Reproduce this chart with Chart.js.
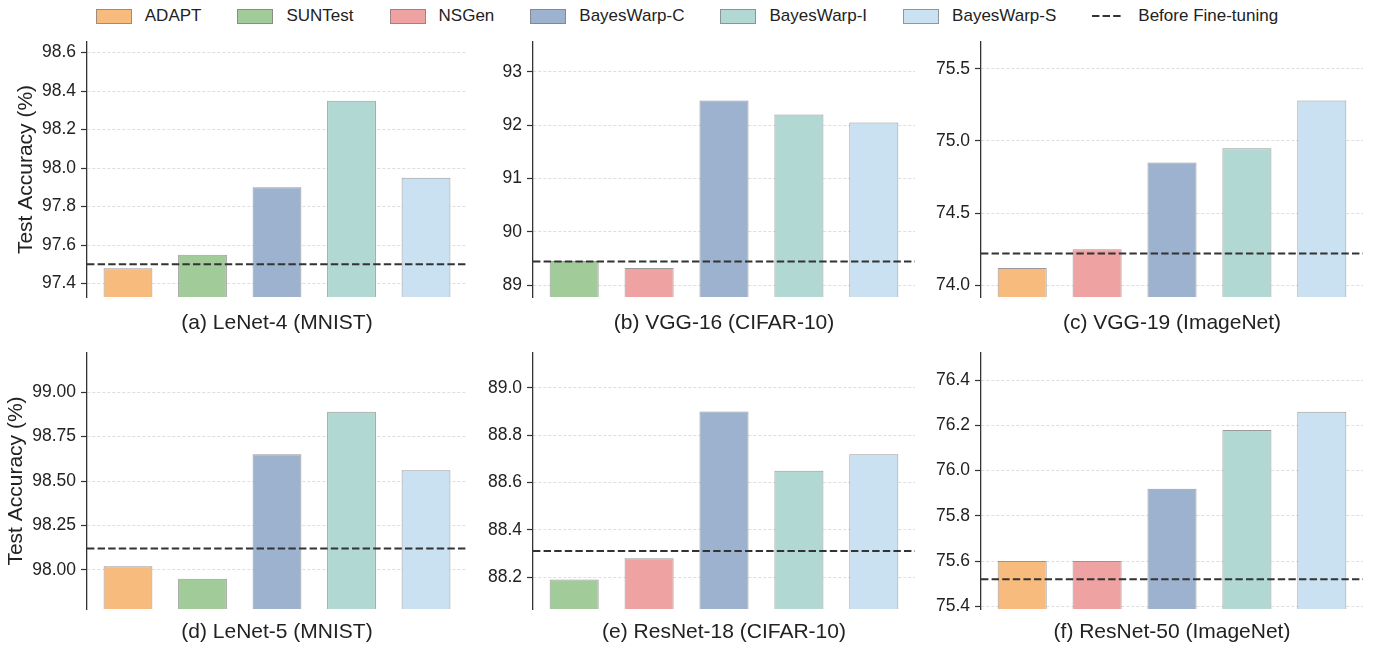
<!DOCTYPE html>
<html>
<head>
<meta charset="utf-8">
<script src="https://cdn.jsdelivr.net/npm/chart.js@4.4.1/dist/chart.umd.min.js"></script>
<style>
  html, body { margin: 0; padding: 0; background: #fff; overflow: hidden; }
  body { width: 1374px; height: 646px; position: relative; font-family: "Liberation Sans", Arial, sans-serif; }
  #legend { position: absolute; top: 6px; left: 0; width: 1374px; display: flex; justify-content: center; align-items: center; font-size: 17px; color: #222; line-height: 20px; }
  .item { display: flex; align-items: center; margin: 0 18px; }
  .sw { width: 36px; height: 15px; box-sizing: border-box; border: 1px solid rgba(120,120,120,0.7); margin-right: 13px; }
  .panel { position: absolute; }
</style>
</head>
<body>
<div id="legend"></div>

<script>
/* DATA */
const methods = ["ADAPT", "SUNTest", "NSGen", "BayesWarp-C", "BayesWarp-I", "BayesWarp-S"];
const methodColors = ["#f7bb7e", "#a1cb98", "#efa2a2", "#9db2ce", "#b2d8d3", "#c9e1f1"];
const baselineLabel = "Before Fine-tuning";

const panelTitles = ["(a) LeNet-4 (MNIST)", "(b) VGG-16 (CIFAR-10)", "(c) VGG-19 (ImageNet)",
                     "(d) LeNet-5 (MNIST)", "(e) ResNet-18 (CIFAR-10)", "(f) ResNet-50 (ImageNet)"];

// which methods appear in each panel, left to right
const methodsA = ["ADAPT", "SUNTest", "BayesWarp-C", "BayesWarp-I", "BayesWarp-S"];
const methodsB = ["SUNTest", "NSGen", "BayesWarp-C", "BayesWarp-I", "BayesWarp-S"];
const methodsC = ["ADAPT", "NSGen", "BayesWarp-C", "BayesWarp-I", "BayesWarp-S"];
const methodsD = ["ADAPT", "SUNTest", "BayesWarp-C", "BayesWarp-I", "BayesWarp-S"];
const methodsE = ["SUNTest", "NSGen", "BayesWarp-C", "BayesWarp-I", "BayesWarp-S"];
const methodsF = ["ADAPT", "NSGen", "BayesWarp-C", "BayesWarp-I", "BayesWarp-S"];

const accA = [97.48, 97.55, 97.90, 98.35, 97.95];
const accB = [89.45, 89.32, 92.46, 92.20, 92.05];
const accC = [74.12, 74.25, 74.85, 74.95, 75.28];
const accD = [98.02, 97.95, 98.65, 98.89, 98.56];
const accE = [88.19, 88.28, 88.90, 88.65, 88.72];
const accF = [75.60, 75.60, 75.92, 76.18, 76.26];

const baselines = [97.50, 89.44, 74.22, 98.12, 88.31, 75.52];

const ticksA = [97.4, 97.6, 97.8, 98.0, 98.2, 98.4, 98.6];
const ticksB = [89, 90, 91, 92, 93];
const ticksC = [74.0, 74.5, 75.0, 75.5];
const ticksD = [98.00, 98.25, 98.50, 98.75, 99.00];
const ticksE = [88.2, 88.4, 88.6, 88.8, 89.0];
const ticksF = [75.4, 75.6, 75.8, 76.0, 76.2, 76.4];
const tickDecimals = [1, 0, 1, 2, 1, 1];

const yMins = [97.33, 88.775, 73.919, 97.78, 88.065, 75.388];
const yMaxs = [98.655, 93.56, 75.685, 99.22, 89.148, 76.52];

/* LAYOUT */
const colLeft = [87, 533, 981];
const colW = [380, 382, 382];
const rowTop = [42, 353];
const rowH = [255, 256];
const xAxisH = [39, 36];
const yTitlePad = [14, 4];
const TOP = 10;
const FONT = '"Liberation Sans", Arial, sans-serif';

/* LEGEND */
const legend = document.getElementById("legend");
methods.forEach((m, i) => {
  const it = document.createElement("div");
  it.className = "item";
  it.innerHTML = '<div class="sw" style="background:' + methodColors[i] + '"></div><span>' + m + '</span>';
  legend.appendChild(it);
});
const dashItem = document.createElement("div");
dashItem.className = "item";
dashItem.innerHTML = '<svg width="31" height="6" style="margin-right:15px"><line x1="0" y1="3" x2="31" y2="3" stroke="#333" stroke-width="2" stroke-dasharray="7.4,3.2"/></svg><span>' + baselineLabel + '</span>';
legend.appendChild(dashItem);

/* PANELS */
const panelMethods = [methodsA, methodsB, methodsC, methodsD, methodsE, methodsF];
const panelValues = [accA, accB, accC, accD, accE, accF];
const panelTicks = [ticksA, ticksB, ticksC, ticksD, ticksE, ticksF];

panelTitles.forEach((title, p) => {
  const col = p % 3, row = Math.floor(p / 3);
  const axisW = col === 0 ? 87 : 60;
  const box = document.createElement("div");
  box.className = "panel";
  box.style.left = (colLeft[col] - axisW) + "px";
  box.style.top = (rowTop[row] - TOP) + "px";
  box.style.width = (axisW + colW[col] + 6) + "px";
  box.style.height = (TOP + rowH[row] + xAxisH[row]) + "px";
  const cv = document.createElement("canvas");
  box.appendChild(cv);
  document.body.appendChild(box);

  const vals = panelValues[p];
  const names = panelMethods[p];
  const xMin = -0.55, xMax = vals.length - 1 + 0.55;

  new Chart(cv, {
    type: 'bar',
    data: {
      datasets: [{
        type: 'line',
        data: [{ x: xMin, y: baselines[p] }, { x: xMax, y: baselines[p] }],
        borderColor: '#333333',
        borderWidth: 2,
        borderDash: [7.4, 3.2],
        pointRadius: 0,
        order: 0
      }, {
        data: vals.map((v, i) => ({ x: i, y: v })),
        backgroundColor: names.map(n => methodColors[methods.indexOf(n)]),
        borderColor: 'rgba(120,120,120,0.75)',
        borderWidth: 1,
        borderSkipped: 'bottom',
        barPercentage: 0.655,
        categoryPercentage: 1,
        order: 1
      }]
    },
    options: {
      responsive: true,
      maintainAspectRatio: false,
      animation: false,
      layout: { padding: { top: TOP, right: 6, left: 0, bottom: 0 } },
      plugins: { legend: { display: false }, tooltip: { enabled: false } },
      scales: {
        x: {
          type: 'linear',
          min: xMin,
          max: xMax,
          offset: false,
          afterBuildTicks: s => { s.ticks = vals.map((_, i) => ({ value: i })); },
          afterFit: s => { s.height = xAxisH[row]; },
          ticks: { display: false },
          grid: { display: false },
          border: { display: false },
          title: {
            display: true,
            text: title,
            color: '#222',
            font: { family: FONT, size: 21 },
            padding: { top: 0, bottom: 0 }
          }
        },
        y: {
          min: yMins[p],
          max: yMaxs[p],
          afterBuildTicks: s => { s.ticks = panelTicks[p].map(v => ({ value: v })); },
          afterFit: s => { s.width = axisW; s.paddingTop = 0; },
          ticks: {
            color: '#222',
            padding: 5,
            font: { family: FONT, size: 17.5 },
            callback: v => Number(v).toFixed(tickDecimals[p])
          },
          grid: {
            color: 'rgba(200,200,200,0.6)',
            lineWidth: 1,
            tickLength: 6,
            tickColor: '#333',
            tickWidth: 1.2,
            tickBorderDash: []
          },
          border: { display: true, color: '#333', width: 1.3, dash: [3, 2] },
          title: {
            display: col === 0,
            text: 'Test Accuracy (%)',
            color: '#222',
            font: { family: FONT, size: 21 },
            padding: { top: yTitlePad[row], bottom: 0 }
          }
        }
      }
    }
  });
});
</script>
</body>
</html>
